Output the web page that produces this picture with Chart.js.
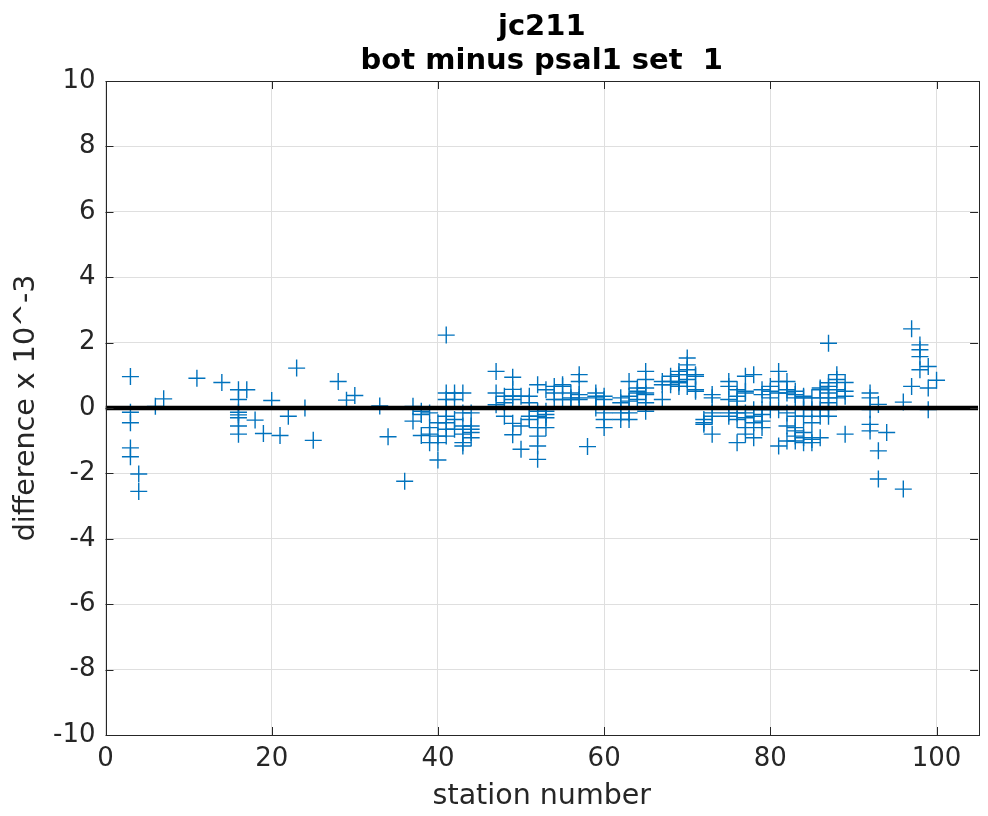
<!DOCTYPE html>
<html>
<head>
<meta charset="utf-8">
<title>jc211 bot minus psal1</title>
<script src="https://cdn.jsdelivr.net/npm/chart.js@4/dist/chart.umd.min.js"></script>
<style>
  html, body { margin: 0; padding: 0; background: #fff; }
  canvas { display: block; }
</style>
</head>
<body>
<canvas id="myChart" width="988" height="816"></canvas>
<script>
// station numbers and the bottle minus psal1 differences (x 10^-3) at each
const stations = [3, 4, 6, 7, 11, 14, 16, 17, 18, 19, 20, 21, 22, 23, 24, 25, 28, 29, 30, 33,
    34, 36, 37, 38, 39, 40, 41, 42, 43, 44, 47, 48, 49, 50, 51, 52, 53, 54, 55, 56,
    57, 58, 59, 60, 62, 63, 64, 65, 67, 68, 69, 70, 71, 72, 73, 75, 76, 77, 78, 79,
    80, 81, 82, 83, 84, 85, 86, 87, 88, 89, 92, 93, 94, 96, 97, 98, 99, 100]

const diffs = [
    [0.96, -0.13, -0.45, -1.22, -1.49],
    [-2.02, -2.55],
    [0.05],
    [0.28],
    [0.91],
    [0.78],
    [0.56, 0.26, -0.13, -0.21, -0.3, -0.55, -0.8],
    [0.56],
    [-0.37],
    [-0.78],
    [0.23],
    [-0.84],
    [-0.25],
    [1.22],
    [0.0],
    [-0.99],
    [0.81],
    [0.24],
    [0.38],
    [0.06],
    [-0.88],
    [-2.24],
    [0.05, -0.4],
    [-0.1, -0.2, -0.84],
    [-0.15, -0.6, -0.8, -1.06],
    [-0.45, -0.86, -1.06, -1.59],
    [2.23, 0.46, 0.26, 0.0, -0.25, -0.45, -0.65, -0.86],
    [0.46, 0.26, -0.35, -0.65],
    [0.46, -0.15, -0.55, -0.8, -1.06, -1.16],
    [-0.15, -0.55, -0.65, -0.75, -0.91],
    [1.12, 0.46, 0.1],
    [0.36, 0.16, -0.25],
    [0.94, 0.57, 0.37, 0.26, -0.47, -0.82],
    [0.36, -0.55, -1.26],
    [0.36, 0.16, -0.25, -0.35],
    [0.71, -0.1, -0.25, -0.6, -0.86, -1.16, -1.57],
    [0.56, -0.1, -0.2, -0.3, -0.6],
    [0.66, 0.46, 0.26],
    [0.71, 0.66, 0.26],
    [0.46, 0.31, 0.26],
    [1.02, 0.81, 0.41, 0.31, 0.26],
    [-1.18],
    [0.46, 0.36, 0.31, 0.0],
    [0.36, 0.26, -0.15, -0.35, -0.6],
    [0.31, 0.16, -0.15, -0.35],
    [0.81, 0.36, 0.21, -0.15, -0.35],
    [0.61, 0.51, 0.46, 0.26],
    [1.12, 0.87, 0.61, 0.46, 0.41, 0.16, -0.1],
    [0.81, 0.71, 0.26],
    [0.97, 0.81, 0.71],
    [1.12, 1.02, 0.81, 0.77, 0.66],
    [1.53, 1.32, 1.17, 1.02, 0.87, 0.66],
    [1.02, 0.97, 0.56, 0.51],
    [-0.35, -0.45, -0.5],
    [0.41, 0.31, -0.15, -0.25, -0.8],
    [0.81, 0.66, 0.26, -0.15, -0.25],
    [0.56, 0.36, 0.21, -0.15, -0.35, -1.06],
    [0.97, 0.51, 0.46, -0.15, -0.3, -0.6, -0.8],
    [1.02, -0.05, -0.25, -0.45, -0.91],
    [0.56, 0.41, -0.05, -0.2, -0.4, -0.6],
    [0.66, 0.51, 0.31, -0.05],
    [1.12, 0.81, 0.46, -0.05, -1.16],
    [0.81, 0.56, 0.46, -0.15, -0.55, -1.01],
    [0.51, 0.41, 0.31, -0.25, -0.6, -0.7, -0.86, -1.01],
    [0.36, 0.31, -0.05, -0.25, -0.75, -0.91, -1.06],
    [0.31, -0.05, -0.45, -0.96, -1.06],
    [0.61, 0.56, 0.31, -0.05, -0.25, -0.91],
    [1.98, 0.77, 0.66, 0.46, 0.31, 0.16, -0.05, -0.25],
    [1.02, 0.87, 0.56, 0.31],
    [0.78, 0.51, 0.36, -0.8],
    [0.46, 0.31, -0.05, -0.5, -0.7],
    [0.11, -1.31, -2.17],
    [-0.75],
    [0.18, -2.48],
    [2.42, 0.66],
    [1.93, 1.78, 1.57, 1.17],
    [1.27, 0.61, -0.05],
    [0.85]
]

const xTicks = [0, 20, 40, 60, 80, 100]
const yTicks = [-10, -8, -6, -4, -2, 0, 2, 4, 6, 8, 10]
const xRange = [0, 105]
const yRange = [-10, 10]
const titleLines = ['jc211', 'bot minus psal1 set  1']

const points = []
stations.forEach((s, i) => {
    diffs[i].forEach((d) => points.push({ x: s, y: d }))
})

const axisColor = '#262626'
const font = 'DejaVu Sans'

// two-line bold title, centred over the axes rather than the whole canvas
const titlePlugin = {
    id: 'axesTitle',
    afterDraw(chart) {
        const { ctx, chartArea: a } = chart
        const cx = (a.left + a.right) / 2
        ctx.save()
        ctx.fillStyle = '#000'
        ctx.font = 'bold 29px "' + font + '"'
        ctx.textAlign = 'center'
        ctx.textBaseline = 'alphabetic'
        titleLines.forEach((t, i) => ctx.fillText(t, cx, 35 + i * 34))
        ctx.restore()
    }
}

// box round the axes with inward tick marks on all four sides
const boxPlugin = {
    id: 'box',
    afterDatasetsDraw(chart) {
        const { ctx, chartArea: a, scales } = chart
        const len = 8
        ctx.save()
        ctx.strokeStyle = axisColor
        ctx.lineWidth = 1
        ctx.beginPath()
        xTicks.forEach((t) => {
            const px = Math.round(scales.x.getPixelForValue(t)) + 0.5
            ctx.moveTo(px, a.bottom); ctx.lineTo(px, a.bottom - len)
            ctx.moveTo(px, a.top); ctx.lineTo(px, a.top + len)
        })
        yTicks.forEach((t) => {
            const py = Math.round(scales.y.getPixelForValue(t)) + 0.5
            ctx.moveTo(a.left, py); ctx.lineTo(a.left + len, py)
            ctx.moveTo(a.right, py); ctx.lineTo(a.right - len, py)
        })
        ctx.stroke()
        ctx.strokeRect(Math.round(a.left) + 0.5, Math.round(a.top) + 0.5,
            Math.round(a.right - a.left), Math.round(a.bottom - a.top))
        ctx.restore()
    }
}

const config = {
    type: 'scatter',
    data: {
        datasets: [
            {
                label: 'zero',
                type: 'line',
                data: [{ x: xRange[0], y: 0 }, { x: xRange[1], y: 0 }],
                borderColor: '#000',
                borderWidth: 4.5,
                pointRadius: 0
            },
            {
                label: 'bot minus psal1',
                data: points,
                pointStyle: 'cross',
                pointRadius: 8.5,
                borderColor: '#0072BD',
                backgroundColor: '#0072BD',
                borderWidth: 1.4
            }
        ]
    },
    options: {
        responsive: false,
        animation: false,
        layout: { padding: { left: 0, right: 1, top: 81, bottom: 0 } },
        plugins: {
            legend: { display: false },
            tooltip: { enabled: false },
            title: { display: false }
        },
        scales: {
            x: {
                type: 'linear',
                min: xRange[0],
                max: xRange[1],
                afterBuildTicks: (s) => { s.ticks = xTicks.map((v) => ({ value: v })) },
                afterFit: (s) => { s.height = 81 },
                grid: { color: '#dfdfdf', drawTicks: false },
                border: { display: false },
                ticks: { color: axisColor, font: { family: font, size: 26 }, padding: 9, maxRotation: 0 },
                title: {
                    display: true,
                    text: 'station number',
                    color: axisColor,
                    font: { family: font, size: 28.5 },
                    padding: { top: 0, bottom: 2 }
                }
            },
            y: {
                min: yRange[0],
                max: yRange[1],
                afterBuildTicks: (s) => { s.ticks = yTicks.map((v) => ({ value: v })) },
                afterFit: (s) => { s.width = 105.5 },
                grid: { color: '#dfdfdf', drawTicks: false },
                border: { display: false },
                ticks: { color: axisColor, font: { family: font, size: 26 }, padding: 10 },
                title: {
                    display: true,
                    text: 'difference x 10^-3',
                    color: axisColor,
                    font: { family: font, size: 28.5 },
                    padding: { top: 9, bottom: 0 }
                }
            }
        }
    },
    plugins: [boxPlugin, titlePlugin]
}

const chart = new Chart(document.querySelector('#myChart'), config)
</script>
</body>
</html>
